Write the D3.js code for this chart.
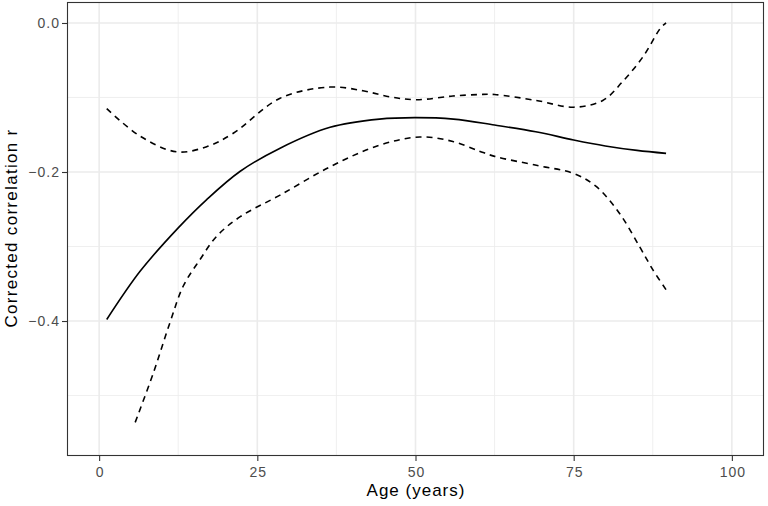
<!DOCTYPE html>
<html lang="en">
    <head>
        <meta charset="utf-8">
        <title>Corrected correlation by age</title>
        <script type="text/javascript" src="https://cdn.jsdelivr.net/npm/d3@7"></script>
        <style type="text/css">
            body { margin: 0; background: #fff; }
            text { font-family: "Liberation Sans", Arial, sans-serif; }
        </style>
    </head>
    <body>
        <script type="text/javascript">

            //Width and height
            var w = 768;
            var h = 506;

            //Data
            var fitAge  = [1.2, 6.5, 12.5, 17, 22.3, 28.6, 36.5, 44.3, 49.9, 56, 62.5, 69, 75, 80, 85, 89.6];
            var fitR    = [-0.398, -0.333, -0.275, -0.237, -0.199, -0.168, -0.140, -0.129, -0.127, -0.129, -0.137, -0.146, -0.157, -0.165, -0.171, -0.175];

            var upperAge = [1.2, 6.5, 12.3, 17, 21.2, 28.6, 36.5, 41.7, 45.9, 50.1, 55.9, 60.1, 62.5, 69.1, 75, 79.6, 82.7, 85.9, 88.8, 89.6];
            var upperR   = [-0.115, -0.152, -0.173, -0.166, -0.148, -0.101, -0.086, -0.091, -0.099, -0.103, -0.098, -0.096, -0.096, -0.104, -0.113, -0.104, -0.079, -0.046, -0.006, 0.0];

            var lowerAge = [5.7, 8.6, 11.2, 13.3, 15.9, 18.6, 22.3, 28.6, 36.5, 44.3, 50.7, 55.9, 60.1, 62.5, 69.1, 75, 78.5, 82.2, 85.4, 87.5, 89.6];
            var lowerR   = [-0.536, -0.469, -0.402, -0.353, -0.318, -0.286, -0.260, -0.231, -0.193, -0.164, -0.153, -0.159, -0.172, -0.179, -0.191, -0.202, -0.219, -0.255, -0.300, -0.331, -0.358];

            var xTicks = [0, 25, 50, 75, 100];
            var xMinor = [12.5, 37.5, 62.5, 87.5];
            var yTicks = [0.0, -0.2, -0.4];
            var yMinor = [-0.1, -0.3, -0.5];

            //Panel box (don't call these top/left... window.top is read only)
            var pLeft = 67.5, pRight = 763.5, pTop = 2.5, pBottom = 455.5;

            var x = d3.scaleLinear().domain([-5, 105]).range([pLeft, pRight]);
            var y = d3.scaleLinear().domain([-0.5805, 0.0275]).range([pBottom, pTop]);

            var svg = d3.select("body")
                        .append("svg")
                        .attr("width", w)
                        .attr("height", h);

            //Minor grid
            svg.selectAll("line.xminor").data(xMinor).enter().append("line")
                .attr("x1", d => x(d)).attr("x2", d => x(d))
                .attr("y1", pTop).attr("y2", pBottom)
                .attr("stroke", "#EBEBEB").attr("stroke-width", 0.8);
            svg.selectAll("line.yminor").data(yMinor).enter().append("line")
                .attr("x1", pLeft).attr("x2", pRight)
                .attr("y1", d => y(d)).attr("y2", d => y(d))
                .attr("stroke", "#EBEBEB").attr("stroke-width", 0.8);

            //Major grid
            svg.selectAll("line.xmajor").data(xTicks).enter().append("line")
                .attr("x1", d => x(d)).attr("x2", d => x(d))
                .attr("y1", pTop).attr("y2", pBottom)
                .attr("stroke", "#EBEBEB").attr("stroke-width", 1.6);
            svg.selectAll("line.ymajor").data(yTicks).enter().append("line")
                .attr("x1", pLeft).attr("x2", pRight)
                .attr("y1", d => y(d)).attr("y2", d => y(d))
                .attr("stroke", "#EBEBEB").attr("stroke-width", 1.6);

            //Curves
            var line = d3.line()
                .x(d => x(d[0]))
                .y(d => y(d[1]))
                .curve(d3.curveCatmullRom);

            svg.append("path")
                .attr("d", line(d3.zip(fitAge, fitR)))
                .attr("fill", "none").attr("stroke", "#000").attr("stroke-width", 1.6);

            svg.append("path")
                .attr("d", line(d3.zip(upperAge, upperR)))
                .attr("fill", "none").attr("stroke", "#000").attr("stroke-width", 1.6)
                .attr("stroke-dasharray", "6,5");

            svg.append("path")
                .attr("d", line(d3.zip(lowerAge, lowerR)))
                .attr("fill", "none").attr("stroke", "#000").attr("stroke-width", 1.6)
                .attr("stroke-dasharray", "6,5");

            //Axes
            var xAxis = d3.axisBottom(x).tickValues(xTicks).tickSize(5.5).tickPadding(6.5).tickFormat(d3.format("d"));
            var yAxis = d3.axisLeft(y).tickValues(yTicks).tickSize(5.5).tickPadding(3)
                          .tickFormat(d => d3.format(".1f")(d).replace("-", "\u2212"));

            var gx = svg.append("g").attr("transform", "translate(0," + pBottom + ")").call(xAxis);
            var gy = svg.append("g").attr("transform", "translate(" + pLeft + ",0)").call(yAxis);

            [gx, gy].forEach(function(g) {
                g.attr("font-size", 14).attr("font-family", "'Liberation Sans', Arial, sans-serif");
                g.select(".domain").remove();
                g.selectAll(".tick line").attr("stroke", "#333").attr("stroke-width", 1.1);
                g.selectAll(".tick text").attr("fill", "#4D4D4D").attr("letter-spacing", 1);
            });
            //letter-spacing leaves a trailing gap, nudge so labels stay centred / flush
            gx.selectAll(".tick text").attr("dx", 0.5);
            gy.selectAll(".tick text").attr("dx", 1);

            //Panel border
            svg.append("rect")
                .attr("x", pLeft).attr("y", pTop)
                .attr("width", pRight - pLeft).attr("height", pBottom - pTop)
                .attr("fill", "none").attr("stroke", "#333").attr("stroke-width", 1.1);

            //Axis titles
            svg.append("text")
                .text("Age (years)")
                .attr("x", (pLeft + pRight) / 2 + 0.5)
                .attr("y", 495.5)
                .attr("text-anchor", "middle")
                .attr("font-size", 17)
                .attr("letter-spacing", 1)
                .attr("fill", "#000");

            svg.append("text")
                .text("Corrected correlation r")
                .attr("transform", "translate(16.5," + 228 + ") rotate(-90)")
                .attr("text-anchor", "middle")
                .attr("font-size", 17)
                .attr("letter-spacing", 1.3)
                .attr("fill", "#000");
        </script>
    </body>
</html>
